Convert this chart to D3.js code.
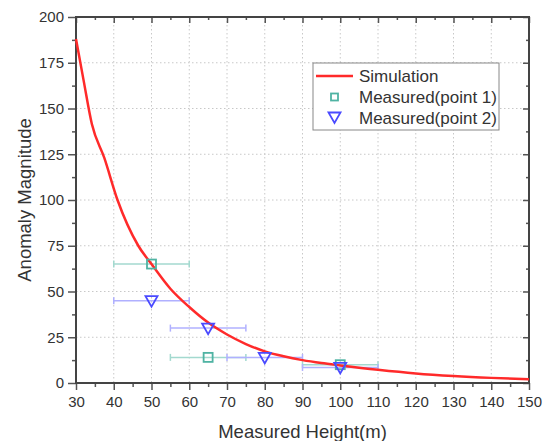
<!DOCTYPE html>
<html>
<head>
<meta charset="utf-8">
<script src="https://cdn.jsdelivr.net/npm/d3@7"></script>
<style>
  body { margin: 0; background: #fff; }
  text { font-family: "Liberation Sans", Arial, sans-serif; fill: #333; }
</style>
</head>
<body>
<script>
// simulation curve
var simX = [30, 32, 34.2, 37.5, 41, 46.5, 50, 55, 60, 65, 70, 75, 80, 85, 90, 95, 100, 110, 120, 130, 140, 150];
var simY = [188, 165.5, 141.5, 123, 100, 75, 65, 51.5, 41.5, 33, 26.5, 21.3, 17.3, 14.6, 12.5, 10.9, 9.6, 7.2, 5.2, 3.8, 2.8, 2.1];

// measured points (x error +/- 10 m)
var p1X = [50, 65, 100], p1Y = [65, 14, 10], p1Err = [10, 10, 10];
var p2X = [50, 65, 80, 100], p2Y = [45, 30, 14, 8.5], p2Err = [10, 10, 10, 10];

var xTicks = d3.range(30, 151, 10);
var yTicks = d3.range(0, 201, 25);
var legendLabels = ["Simulation", "Measured(point 1)", "Measured(point 2)"];

var width = 555, height = 441,
    mLeft = 76, mRight = 529, mTop = 17, mBottom = 383;

var xSc = d3.scaleLinear().domain([30, 150]).range([mLeft, mRight]),
    ySc = d3.scaleLinear().domain([0, 200]).range([mBottom, mTop]);

var svg = d3.select("body").append("svg")
  .attr("width", width)
  .attr("height", height);

// grid
svg.append("g").selectAll("line")
  .data(xTicks.slice(1, -1))
  .enter().append("line")
  .attr("x1", function(d) { return xSc(d); }).attr("x2", function(d) { return xSc(d); })
  .attr("y1", mTop).attr("y2", mBottom)
  .style("stroke", "#c8c8c8").style("stroke-dasharray", "1.5,2.5");
svg.append("g").selectAll("line")
  .data(yTicks.slice(1, -1))
  .enter().append("line")
  .attr("y1", function(d) { return ySc(d); }).attr("y2", function(d) { return ySc(d); })
  .attr("x1", mLeft).attr("x2", mRight)
  .style("stroke", "#c8c8c8").style("stroke-dasharray", "1.5,2.5");

// axes
var minorX = d3.range(35, 150, 10), minorY = d3.range(12.5, 200, 25);

function styleAxis(g) {
  g.select(".domain").remove();
  g.selectAll("line").style("stroke", "#555").style("stroke-width", 1.5);
  g.selectAll("text").style("font-size", "15px").style("fill", "#333");
}

svg.append("g").attr("transform", "translate(0," + mBottom + ")")
  .call(d3.axisBottom(xSc).tickValues(xTicks).tickSize(7).tickPadding(6).tickFormat(d3.format("d")))
  .call(styleAxis);
svg.append("g").attr("transform", "translate(0," + mBottom + ")")
  .call(d3.axisBottom(xSc).tickValues(minorX).tickSize(4).tickFormat(""))
  .call(styleAxis);
svg.append("g").attr("transform", "translate(" + mLeft + ",0)")
  .call(d3.axisLeft(ySc).tickValues(yTicks).tickSize(8).tickPadding(4).tickFormat(d3.format("d")))
  .call(styleAxis);
svg.append("g").attr("transform", "translate(" + mLeft + ",0)")
  .call(d3.axisLeft(ySc).tickValues(minorY).tickSize(4).tickFormat(""))
  .call(styleAxis);
// mirrored ticks, pointing in
svg.append("g").attr("transform", "translate(0," + mTop + ")")
  .call(d3.axisBottom(xSc).tickValues(xTicks).tickSize(6).tickFormat(""))
  .call(styleAxis);
svg.append("g").attr("transform", "translate(0," + mTop + ")")
  .call(d3.axisBottom(xSc).tickValues(minorX).tickSize(3).tickFormat(""))
  .call(styleAxis);
svg.append("g").attr("transform", "translate(" + mRight + ",0)")
  .call(d3.axisLeft(ySc).tickValues(yTicks).tickSize(6).tickFormat(""))
  .call(styleAxis);
svg.append("g").attr("transform", "translate(" + mRight + ",0)")
  .call(d3.axisLeft(ySc).tickValues(minorY).tickSize(3).tickFormat(""))
  .call(styleAxis);

svg.append("rect")
  .attr("x", mLeft).attr("y", mTop)
  .attr("width", mRight - mLeft).attr("height", mBottom - mTop)
  .style("fill", "none").style("stroke", "#444").style("stroke-width", 2);

// error bars
function errBars(xs, ys, errs, color) {
  var g = svg.append("g").style("stroke", color).style("stroke-width", 1.5);
  xs.forEach(function(x, i) {
    var y = ySc(ys[i]);
    g.append("line").attr("x1", xSc(x - errs[i])).attr("x2", xSc(x + errs[i]))
      .attr("y1", y).attr("y2", y);
    [x - errs[i], x + errs[i]].forEach(function(e) {
      g.append("line").attr("x1", xSc(e)).attr("x2", xSc(e))
        .attr("y1", y - 3.5).attr("y2", y + 3.5);
    });
  });
}
errBars(p1X, p1Y, p1Err, "#a3d9cf");
errBars(p2X, p2Y, p2Err, "#b0b0ff");

// simulation line
var line = d3.line()
  .x(function(d) { return xSc(d[0]); })
  .y(function(d) { return ySc(d[1]); })
  .curve(d3.curveMonotoneX);

svg.append("path")
  .datum(simX.map(function(x, i) { return [x, simY[i]]; }))
  .attr("d", line)
  .style("fill", "none").style("stroke", "#ff2a2a").style("stroke-width", 2.5);

// markers
var tri = "M-6,-4.5L6,-4.5L0,6Z";
svg.append("g").selectAll("rect")
  .data(p1X)
  .enter().append("rect")
  .attr("x", function(d) { return xSc(d) - 4.5; })
  .attr("y", function(d, i) { return ySc(p1Y[i]) - 4.5; })
  .attr("width", 9).attr("height", 9)
  .style("fill", "none").style("stroke", "#4fb3a3").style("stroke-width", 1.8);
svg.append("g").selectAll("path")
  .data(p2X)
  .enter().append("path")
  .attr("transform", function(d, i) { return "translate(" + xSc(d) + "," + ySc(p2Y[i]) + ")"; })
  .attr("d", tri)
  .style("fill", "none").style("stroke", "#4a4aff").style("stroke-width", 1.8);

// legend
var lg = svg.append("g").attr("transform", "translate(313,63)");
lg.append("rect").attr("width", 186).attr("height", 67)
  .style("fill", "#fff").style("stroke", "#888").style("stroke-width", 1);
lg.append("line").attr("x1", 3).attr("x2", 40).attr("y1", 13).attr("y2", 13)
  .style("stroke", "#ff2a2a").style("stroke-width", 2.5);
lg.append("rect").attr("x", 18).attr("y", 30.5).attr("width", 7).attr("height", 7)
  .style("fill", "none").style("stroke", "#4fb3a3").style("stroke-width", 1.8);
lg.append("path").attr("transform", "translate(21.5,54)").attr("d", tri)
  .style("fill", "none").style("stroke", "#4a4aff").style("stroke-width", 1.8);
lg.selectAll("text.lab")
  .data(legendLabels)
  .enter().append("text")
  .attr("class", "lab")
  .attr("x", 46)
  .attr("y", function(d, i) { return 13 + i * 21; })
  .attr("dy", "0.35em")
  .style("font-size", "17px")
  .text(function(d) { return d; });

// axis titles
svg.append("text")
  .attr("x", (mLeft + mRight) / 2).attr("y", 432)
  .attr("text-anchor", "middle").attr("dy", "0.35em")
  .style("font-size", "18.5px")
  .text("Measured Height(m)");
svg.append("text")
  .attr("transform", "translate(25," + 200 + ") rotate(-90)")
  .attr("text-anchor", "middle").attr("dy", "0.35em")
  .style("font-size", "18.5px")
  .text("Anomaly Magnitude");
</script>
</body>
</html>
